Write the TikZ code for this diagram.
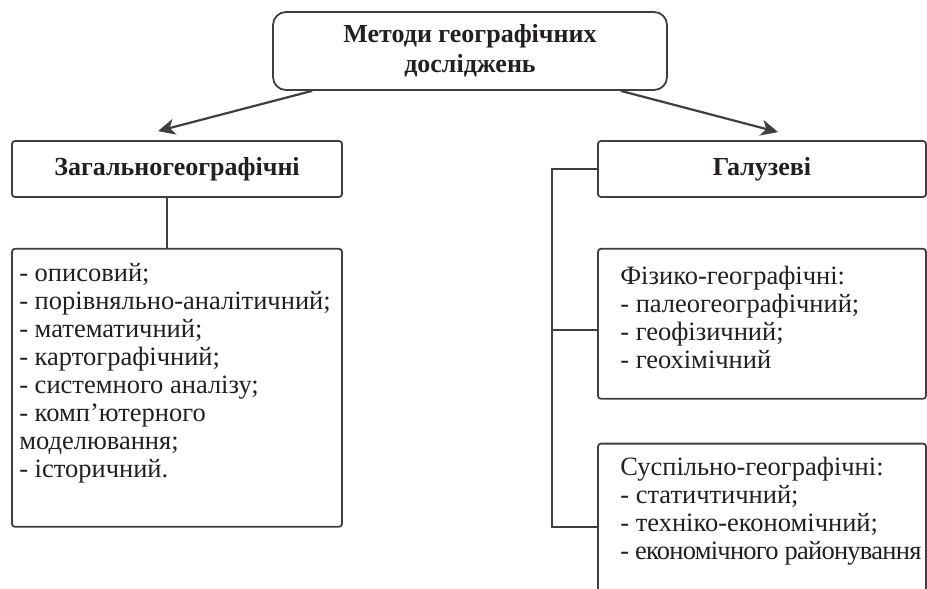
\documentclass[tikz,border=0pt]{standalone}
\usepackage{fontspec}
\setmainfont{Liberation Serif}
\usepackage{xcolor}
\usetikzlibrary{positioning,arrows.meta}
\definecolor{edge}{HTML}{3F3F3F}
\definecolor{ink}{HTML}{231F20}

\begin{document}
\begin{tikzpicture}[x=1pt, y=1pt, node distance = 50pt]
            \tikzstyle{box} = [draw=edge, line width=1.8pt, rounded corners=3pt, inner sep=0pt, minimum width=330pt, text=ink];
            \tikzstyle{head} = [box, minimum height=56pt, font=\fontsize{26}{30}\selectfont\bfseries];
            \tikzstyle{list} = [align=left, inner sep=0pt, text=ink, font=\fontsize{26.5}{28}\selectfont];
            \tikzstyle{link} = [draw=edge, line width=1.8pt];
            \tikzstyle{arrow} = [link, line width=2.2pt, -{Stealth[length=17pt, width=16pt, inset=5pt]}];

            \path [use as bounding box, clip] (0,0) rectangle (927,-589);

            \node [head, rounded corners=13pt, minimum width=394pt, minimum height=78pt, align=center] (M0) at (470,-51) {Методи географічних\\досліджень};

            \node [head] (Z1) at (177,-169) {Загальногеографічні};
            \node [box, minimum height=278pt, below = of Z1] (Z2) {};
            \node [list, below right = 15pt and 8pt of Z2.north west] (Z3) {- описовий;\\- порівняльно-аналітичний;\\- математичний;\\- картографічний;\\- системного аналізу;\\- комп'ютерного\\моделювання;\\- історичний.};

            \node [head, minimum width=328pt] (G1) at (762,-169) {Галузеві};
            \node [box, minimum width=328pt, minimum height=150pt, below = of G1] (G2) {};
            \node [list, below right = 18pt and 23pt of G2.north west] (G3) {Фізико-географічні:\\- палеогеографічний;\\- геофізичний;\\- геохімічний};

            \node [box, minimum width=328pt, minimum height=166pt, below = 43pt of G2] (G4) {};
            \node [list, below right = 14pt and 23pt of G4.north west] (G5) {Суспільно-географічні:\\- статичтичний;\\- техніко-економічний;\\{\addfontfeature{LetterSpace=-2.8}- економічного районування}};

            \draw [arrow] ([xshift=40pt]M0.south west) to ([shift={(-19pt,9pt)}]Z1.north);
            \draw [arrow] ([xshift=-47pt]M0.south east) to ([shift={(16pt,8pt)}]G1.north);
            \draw [link] ([xshift=-10pt]Z1.south) to ([xshift=-10pt]Z2.north);
            \draw [link] (G1.west) -- ++(-45,0) |- (G4.west);
            \draw [link] ([yshift=-6pt]G2.west) -- ++(-45,0);
        \end{tikzpicture}
\end{document}
